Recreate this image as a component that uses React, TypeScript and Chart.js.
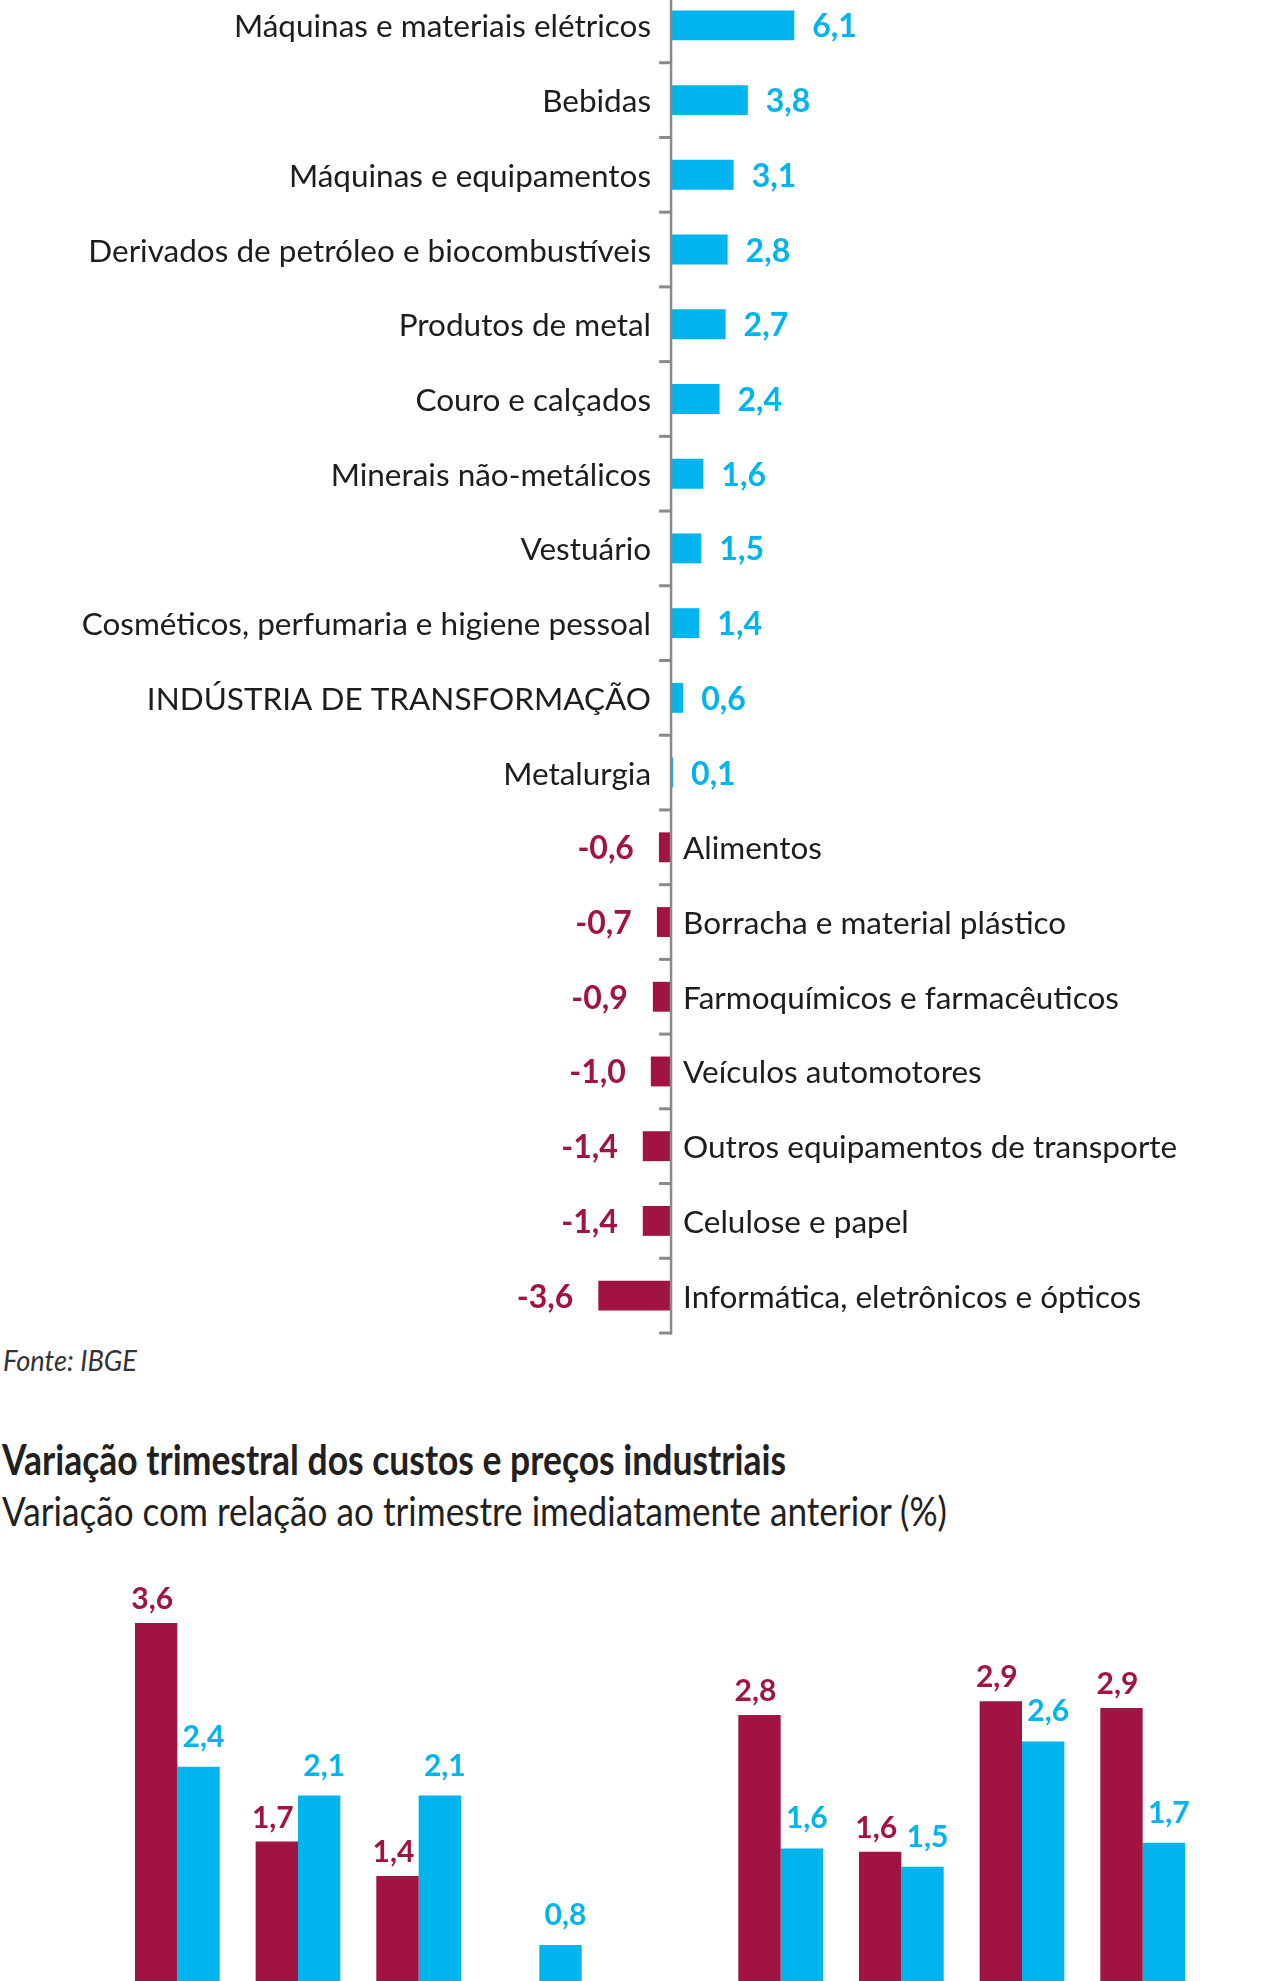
import React, { useEffect, useLayoutEffect, useRef } from "react";
import { Chart, registerables } from "chart.js";

Chart.register(...registerables);

// ---------- Data: top chart (sector variation, %) ----------
const sectorCategories = [
  "Máquinas e materiais elétricos",
  "Bebidas",
  "Máquinas e equipamentos",
  "Derivados de petróleo e biocombustíveis",
  "Produtos de metal",
  "Couro e calçados",
  "Minerais não-metálicos",
  "Vestuário",
  "Cosméticos, perfumaria e higiene pessoal",
  "INDÚSTRIA DE TRANSFORMAÇÃO",
  "Metalurgia",
  "Alimentos",
  "Borracha e material plástico",
  "Farmoquímicos e farmacêuticos",
  "Veículos automotores",
  "Outros equipamentos de transporte",
  "Celulose e papel",
  "Informática, eletrônicos e ópticos",
];
const sectorValues = [
  6.1, 3.8, 3.1, 2.8, 2.7, 2.4, 1.6, 1.5, 1.4, 0.6, 0.1, -0.6, -0.7, -0.9, -1.0,
  -1.4, -1.4, -3.6,
];

// ---------- Data: bottom chart (quarterly costs and prices, %) ----------
const quarterCategories = ["T1", "T2", "T3", "T4", "T5", "T6", "T7", "T8", "T9"];
const costSeriesName = "Custos";
const priceSeriesName = "Preços";
const costValues: (number | null)[] = [3.6, 1.7, 1.4, null, null, 2.8, 1.61, 2.92, 2.86];
const priceValues: (number | null)[] = [2.35, 2.1, 2.1, 0.8, null, 1.64, 1.48, 2.57, 1.69];

// ---------- Texts ----------
const sourceText = "Fonte: IBGE";
const titleText = "Variação trimestral dos custos e preços industriais";
const subtitleText = "Variação com relação ao trimestre imediatamente anterior (%)";

// ---------- Styles ----------
const BLUE = "#00b4ee";
const CRIMSON = "#a11341";
const AXIS = "#8a8a8a";
const TEXT = "#1d1d1b";
const FONT = "Lato";

const fmt = (v: number) => v.toFixed(1).replace(".", ",");

const sectorPlugin = {
  id: "sectorLabels",
  afterDatasetsDraw(chart: any) {
    const { ctx, chartArea } = chart;
    const xs = chart.scales.x;
    const ys = chart.scales.y;
    const x0 = xs.getPixelForValue(0);
    const step = ys.getPixelForValue(1) - ys.getPixelForValue(0);
    const meta = chart.getDatasetMeta(0);
    ctx.save();
    // axis line
    ctx.strokeStyle = AXIS;
    ctx.lineWidth = 2.5;
    ctx.beginPath();
    ctx.moveTo(x0, chartArea.top);
    ctx.lineTo(x0, chartArea.bottom + 1.5);
    ctx.stroke();
    // ticks at category boundaries
    ctx.lineWidth = 3;
    for (let i = 0; i <= sectorCategories.length; i++) {
      const y = ys.getPixelForValue(i) - step / 2;
      ctx.beginPath();
      ctx.moveTo(x0 - 12, y);
      ctx.lineTo(x0 + 1, y);
      ctx.stroke();
    }
    // labels
    ctx.textBaseline = "alphabetic";
    sectorValues.forEach((v, i) => {
      const bar = meta.data[i];
      const y = bar.y + 12;
      if (v >= 0) {
        ctx.font = `bold 32px ${FONT}`;
        ctx.fillStyle = BLUE;
        ctx.textAlign = "left";
        ctx.fillText(fmt(v), bar.x + 18, y);
        ctx.font = `31.5px ${FONT}`;
        ctx.fillStyle = TEXT;
        ctx.textAlign = "right";
        ctx.fillText(sectorCategories[i], x0 - 20, y);
      } else {
        ctx.font = `bold 32px ${FONT}`;
        ctx.fillStyle = CRIMSON;
        ctx.textAlign = "right";
        ctx.fillText(fmt(v), bar.x - 25, y);
        ctx.font = `31.5px ${FONT}`;
        ctx.fillStyle = TEXT;
        ctx.textAlign = "left";
        ctx.fillText(sectorCategories[i], x0 + 12, y);
      }
    });
    ctx.restore();
  },
};

const quarterPlugin = {
  id: "quarterLabels",
  afterDatasetsDraw(chart: any) {
    const { ctx } = chart;
    ctx.save();
    ctx.font = `bold 30px ${FONT}`;
    ctx.textAlign = "center";
    ctx.textBaseline = "alphabetic";
    chart.data.datasets.forEach((ds: any, d: number) => {
      const meta = chart.getDatasetMeta(d);
      ds.data.forEach((v: number | null, i: number) => {
        if (v === null || v === undefined) return;
        const bar = meta.data[i];
        ctx.fillStyle = d === 0 ? CRIMSON : BLUE;
        const dx = d === 0 ? -4 : 5;
        const gap = d === 0 ? 14 : 20;
        ctx.fillText(fmt(v), bar.x + dx, bar.y - gap);
      });
    });
    ctx.restore();
  },
};

function FitText(props: {
  text: string;
  left: number;
  baseline: number;
  width: number;
  size: number;
  weight?: string;
  italic?: boolean;
  color: string;
}) {
  const ref = useRef<HTMLSpanElement>(null);
  useLayoutEffect(() => {
    const el = ref.current;
    if (!el) return;
    const fit = () => {
      el.style.transform = "none";
      const w = el.getBoundingClientRect().width;
      if (w > 0) el.style.transform = `scaleX(${props.width / w})`;
    };
    fit();
    (document as any).fonts?.ready?.then(fit);
  }, []);
  return (
    <span
      ref={ref}
      style={{
        position: "absolute",
        left: props.left,
        top: props.baseline - 0.887 * props.size,
        fontFamily: FONT,
        fontSize: props.size,
        lineHeight: `${props.size}px`,
        fontWeight: props.weight || "normal",
        fontStyle: props.italic ? "italic" : "normal",
        whiteSpace: "nowrap",
        display: "inline-block",
        transformOrigin: "0 0",
        color: props.color,
      }}
    >
      {props.text}
    </span>
  );
}

export default function App() {
  const topRef = useRef<HTMLCanvasElement>(null);
  const bottomRef = useRef<HTMLCanvasElement>(null);

  useEffect(() => {
    document.body.style.margin = "0";
    const top = new Chart(topRef.current!, {
      type: "bar",
      data: {
        labels: sectorCategories,
        datasets: [
          {
            data: sectorValues,
            backgroundColor: sectorValues.map((v) => (v >= 0 ? BLUE : CRIMSON)),
            borderWidth: 0,
            barPercentage: 0.4,
            categoryPercentage: 1,
          },
        ],
      },
      options: {
        indexAxis: "y",
        responsive: false,
        animation: false,
        layout: { padding: { top: 0, bottom: 3, left: 0, right: 0 } },
        plugins: { legend: { display: false }, tooltip: { enabled: false } },
        scales: {
          x: { display: false, min: -33.22, max: 29.7 },
          y: { display: false },
        },
      },
      plugins: [sectorPlugin],
    });
    const bottom = new Chart(bottomRef.current!, {
      type: "bar",
      data: {
        labels: quarterCategories,
        datasets: [
          {
            label: costSeriesName,
            data: costValues,
            backgroundColor: CRIMSON,
            borderWidth: 0,
            barPercentage: 1,
            categoryPercentage: 0.702,
          },
          {
            label: priceSeriesName,
            data: priceValues,
            backgroundColor: BLUE,
            borderWidth: 0,
            barPercentage: 1,
            categoryPercentage: 0.702,
          },
        ],
      },
      options: {
        responsive: false,
        animation: false,
        layout: { padding: 0 },
        plugins: { legend: { display: false }, tooltip: { enabled: false } },
        scales: {
          x: { display: false },
          y: { display: false, min: -1, max: 4 },
        },
      },
      plugins: [quarterPlugin],
    });
    (document as any).fonts?.ready?.then(() => {
      top.update();
      bottom.update();
    });
    return () => {
      top.destroy();
      bottom.destroy();
    };
  }, []);

  return (
    <div
      style={{
        position: "absolute",
        left: 0,
        top: 0,
        width: 1271,
        height: 1981,
        overflow: "hidden",
        background: "#ffffff",
      }}
    >
      <canvas
        ref={topRef}
        width={1271}
        height={1348}
        style={{ position: "absolute", left: 0, top: -12, display: "block" }}
      />
      <FitText text={sourceText} left={3} baseline={1371} width={134} size={28} italic color="#333333" />
      <FitText text={titleText} left={2} baseline={1475} width={784} size={42} weight="bold" color="#231f20" />
      <FitText text={subtitleText} left={2} baseline={1526} width={945} size={40} color="#231f20" />
      <canvas
        ref={bottomRef}
        width={1086}
        height={575}
        style={{ position: "absolute", left: 117, top: 1577, display: "block" }}
      />
    </div>
  );
}
